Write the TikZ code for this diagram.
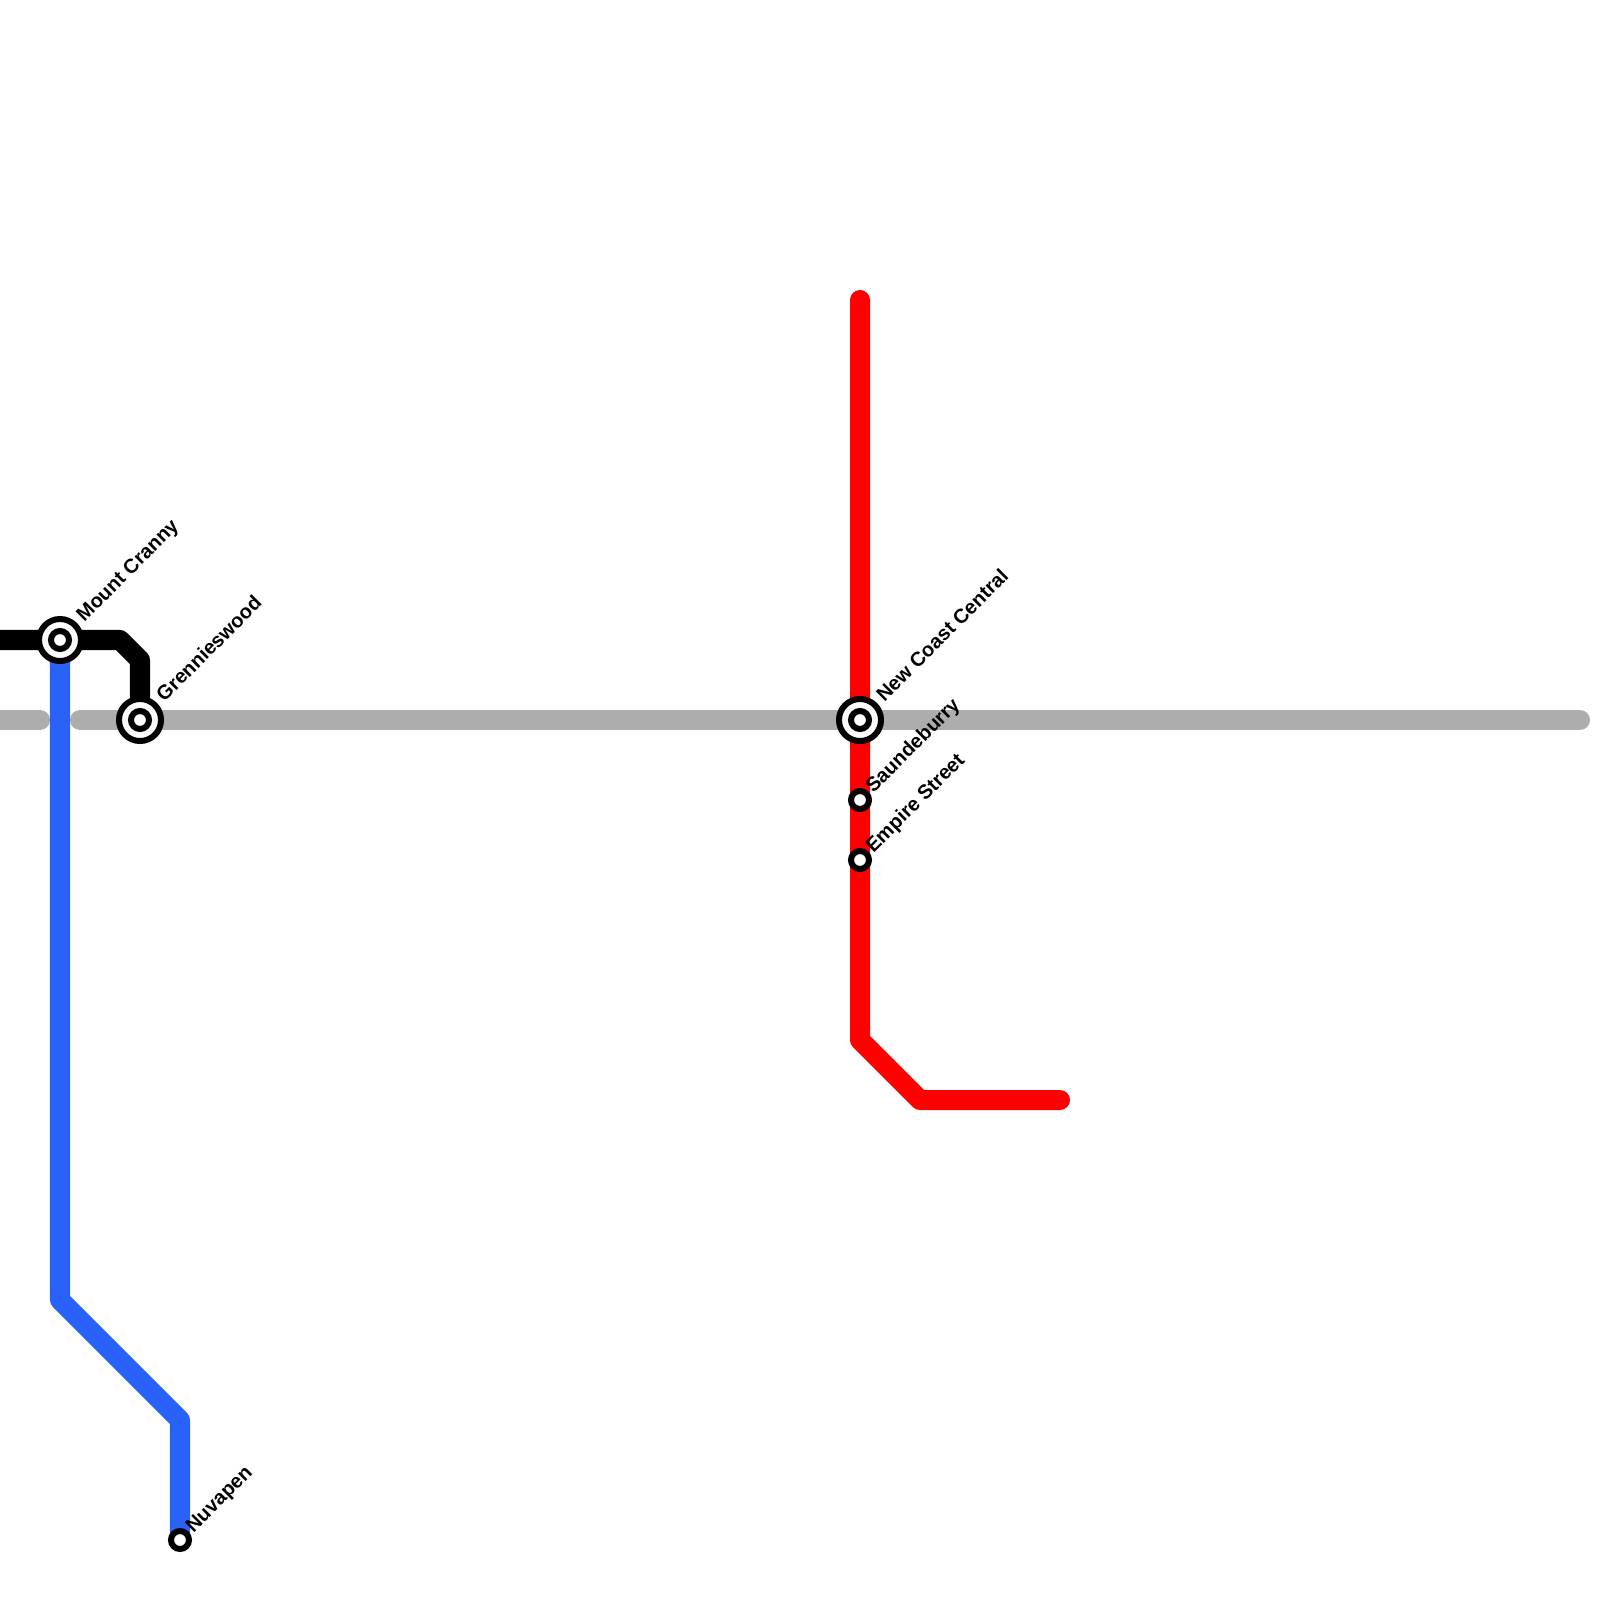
\documentclass[tikz,border=0pt]{standalone}
\usepackage{fontspec}
\setmainfont{Liberation Sans}
\usepackage{xcolor}
\usepackage{tikz}
\usetikzlibrary{backgrounds}
\definecolor{linegrey}{HTML}{ADADAD}
\definecolor{lineblue}{HTML}{2962F6}
\definecolor{linered}{HTML}{FF0000}
\tikzset{
    trackline/.style={line width=0.2cm, line cap=round, line join=round},
    stopdot/.style={circle, draw=black, fill=white, line width=0.06cm, minimum size=0.18cm, inner sep=0pt},
    interchange/.style={circle, draw=black, fill=white, line width=0.06cm, minimum size=0.42cm, inner sep=0pt},
    stationname/.style={rotate=45, anchor=base west, inner sep=0pt, font=\fontsize{5.69pt}{6pt}\selectfont\bfseries},
}

\begin{document}
\begin{tikzpicture}[x=0.01cm, y=-0.01cm]
    \useasboundingbox (0,0) rectangle (1600,1600);
    % big stations
    \foreach \n/\x/\y/\t in {mount/60/640/Mount Cranny,grennies/140/720/Grennieswood,coast/860/720/New Coast Central} {
        \node[interchange] (\n) at (\x,\y) {};
        \node[stopdot] (\n inner) at (\n) {};
        \node[stationname] (\n name) at (\x+24,\y-17) {\t};
    }
    % small stations
    \foreach \n/\x/\y/\t in {saunde/860/800/Saundeburry,empire/860/860/Empire Street,nuvapen/180/1540/Nuvapen} {
        \node[stopdot] (\n) at (\x,\y) {};
        \node[stationname] (\n name) at (\x+13,\y-6) {\t};
    }
    \coordinate (greyleft) at (0,720);
    \coordinate (greygap) at (40,720);
    \coordinate (greystart) at (80,720);
    \coordinate (greyend) at (1580,720);
    \coordinate (blackstart) at (0,640);
    \coordinate (redtop) at (860,300);
    \coordinate (redend) at (1060,1100);
    \begin{scope}[on background layer]
        \draw[trackline, linegrey] (greyleft) -- (greygap);
        \draw[trackline, linegrey] (greystart) -- (greyend);
        \draw[trackline, lineblue] (mount.center) -- (60,1300) -- (180,1420) -- (nuvapen.center);
        \draw[trackline, black] (blackstart) -- (120,640) -- (140,660) -- (grennies.center);
        \draw[trackline, linered] (redtop) -- (coast.center) -- (saunde.center) -- (empire.center) -- (860,1040) -- (920,1100) -- (redend);
    \end{scope}
\end{tikzpicture}
\end{document}
